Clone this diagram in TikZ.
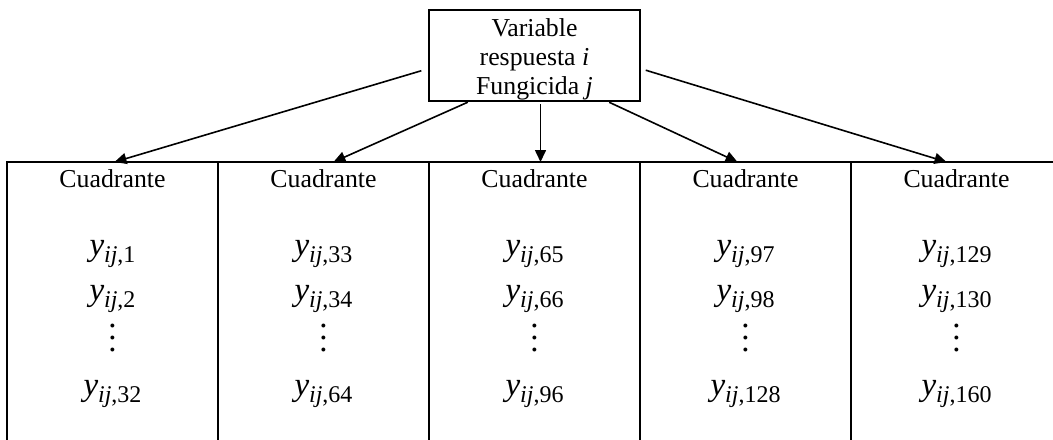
\documentclass[tikz,border=0pt]{standalone}
\usepackage{fontspec}
\setmainfont{Liberation Serif}
\usetikzlibrary{arrows.meta,positioning}

% observacion y_{ij,k} del cuadrante
\newcommand{\yobs}[1]{{\fontsize{16.5}{18}\selectfont\itshape y}\raisebox{-3.5pt}{\fontsize{12}{14}\selectfont\itshape ij\upshape,#1}}
\newcommand{\puntos}{\vbox{\fontsize{16.5}{6}\selectfont\baselineskip=6pt\lineskiplimit=-10pt\hbox{.}\hbox{.}\hbox{.}}}

\begin{document}
\begin{tikzpicture}[x=1pt, y=1pt, font=\fontsize{12.9}{14.5}\selectfont,
  caja/.style={draw, line width=1pt, align=center, inner sep=0pt, outer sep=0pt,
               minimum width=105.5pt, minimum height=45.5pt},
  columna/.style={draw, line width=1pt, outer sep=0pt,
                  minimum width=105.5pt, minimum height=170pt},
  texto/.style={inner sep=0pt},
  flecha/.style={-{Triangle[length=6pt, width=5.5pt]}, line width=0.8pt}]
\useasboundingbox (0,0) rectangle (526.5,-219.5);
\clip (0,0) rectangle (526.5,-219.5);
\node[columna, anchor=north west] (cuad1) at (3.5,-81) {};
\node[columna, right=0pt of cuad1] (cuad2) {};
\node[columna, right=0pt of cuad2] (cuad3) {};
\node[columna, right=0pt of cuad3] (cuad4) {};
\node[columna, right=0pt of cuad4] (cuad5) {};
\node[caja, above=30.5pt of cuad3] (caja) {\rule{0pt}{12.8pt}Variable\\respuesta \textit{i}\\Fungicida \textit{j}};
% contenido de cada cuadrante
\foreach \c/\a/\b/\z in {1/1/2/32, 2/33/34/64, 3/65/66/96, 4/97/98/128, 5/129/130/160}{
  \node[texto, anchor=base] (tit\c) at ([yshift=-12.5pt]cuad\c.north) {Cuadrante};
  \node[texto, anchor=base] (ya\c) at ([yshift=-46.5pt]cuad\c.north) {\yobs{\a}};
  \node[texto, anchor=base] (yb\c) at ([yshift=-69pt]cuad\c.north) {\yobs{\b}};
  \node[texto] (pt\c) at ([yshift=-88pt]cuad\c.north) {\puntos};
  \node[texto, anchor=base] (yz\c) at ([yshift=-116.5pt]cuad\c.north) {\yobs{\z}};
}
\draw[flecha, shorten <=4pt] (caja.187) -- ([xshift=1pt]cuad1.north);
\draw[flecha, shorten <=1.5pt] ([xshift=-32pt]caja.south) -- ([xshift=5pt]cuad2.north);
\draw[flecha, shorten <=1.5pt] ([xshift=3pt]caja.south) -- ([xshift=3pt]cuad3.north);
\draw[flecha, shorten <=1.5pt] ([xshift=36pt]caja.south) -- ([xshift=-4pt]cuad4.north);
\draw[flecha, shorten <=3pt] (caja.353) -- ([xshift=-5pt]cuad5.north);
\end{tikzpicture}
\end{document}
